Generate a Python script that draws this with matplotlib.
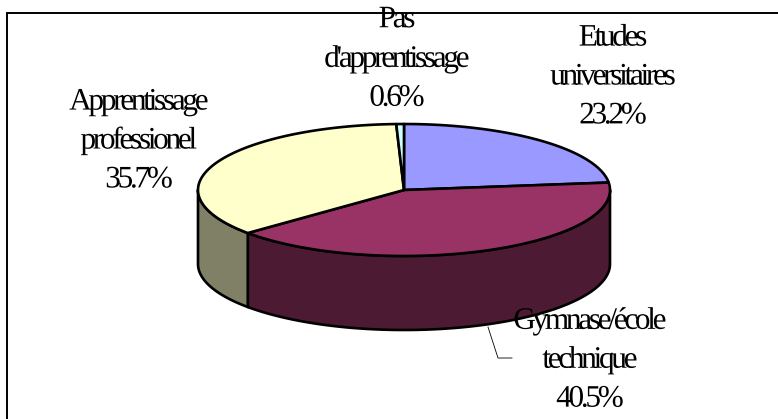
import matplotlib
matplotlib.use("Agg")
import matplotlib.pyplot as plt
import matplotlib.patheffects as pe
import numpy as np
from matplotlib.patches import Polygon
from matplotlib.path import Path

labels = ["Etudes\nuniversitaires", "Gymnase/école\ntechnique", "Apprentissage\nprofessionel", "Pas\nd'apprentissage"]
shares = [23.2, 40.5, 35.7, 0.6]
top_colors = ["#9999FF", "#993366", "#FFFFCC", "#CCFFFF"]
side_colors = ["#4D4D80", "#4D1A33", "#808066", "#668080"]
label_pos = [(613, 77), (590, 360), (139, 141), (397, 59)]

# pie geometry, in pixels
cx, cy = 404, 190
rx, ry = 206, 66
depth = 74


class Tracking(pe.AbstractPathEffect):
    # the reference sets its Times with overlapping letters, so pull the glyphs
    # of each line together (text paths are 100 units to the em)
    def __init__(self, track):
        super().__init__()
        self.track = track

    def draw_path(self, renderer, gc, tpath, affine, rgbFace=None):
        v = tpath.vertices.copy()
        codes = tpath.codes
        starts = np.flatnonzero(codes == Path.MOVETO)
        ends = np.append(starts[1:], len(v))
        n = -1
        right = -np.inf
        for s, e in zip(starts, ends):
            xs = v[s:e, 0][codes[s:e] != Path.CLOSEPOLY]
            if xs.min() >= right:
                n += 1
            right = max(right, xs.max())
            v[s:e, 0] -= self.track * n
        v[:, 0] += self.track * n / 2
        renderer.draw_path(gc, Path(v, codes), affine, rgbFace)


def arc(a0, a1, dy=0):
    t = np.radians(np.linspace(a0, a1, 200))
    return np.column_stack([cx + rx * np.cos(t), cy - ry * np.sin(t) + dy])


fig = plt.figure(figsize=(7.78, 4.19), dpi=100)
ax = fig.add_axes([0, 0, 1, 1])
ax.set_xlim(0, 778)
ax.set_ylim(419, 0)
ax.axis("off")

# only the top and left of the chart border are in the picture
ax.plot([7.5, 7.5, 778], [419, 13, 13], color="black", lw=1.4, solid_joinstyle="miter")

# slices run clockwise from the top
edges = 90 - np.cumsum([0] + shares) * 3.6

# side walls, only the part below the horizontal shows
for i in range(len(shares)):
    lo, hi = max(edges[i + 1], -180), min(edges[i], 0)
    if lo < hi:
        wall = np.vstack([arc(hi, lo), arc(lo, hi, depth)])
        ax.add_patch(Polygon(wall, fc=side_colors[i], ec="black", lw=1.9, joinstyle="round"))

# top faces
for i in range(len(shares)):
    wedge = np.vstack([[cx, cy], arc(edges[i], edges[i + 1])])
    ax.add_patch(Polygon(wedge, fc=top_colors[i], ec="black", lw=1.9, joinstyle="round"))

# leader line for the Gymnase label
ax.plot([488, 498, 512], [327, 358, 358], color="black", lw=0.6)

for i in range(len(labels)):
    txt = labels[i] + "\n" + f"{shares[i]:.1f}%"
    x, y = label_pos[i]
    ax.text(x, y, txt, ha="center", va="center", family="Liberation Serif", fontsize=22.5,
            linespacing=1.45, color="black", path_effects=[Tracking(10.5)], zorder=5)

fig.savefig("out.png", dpi=100)
